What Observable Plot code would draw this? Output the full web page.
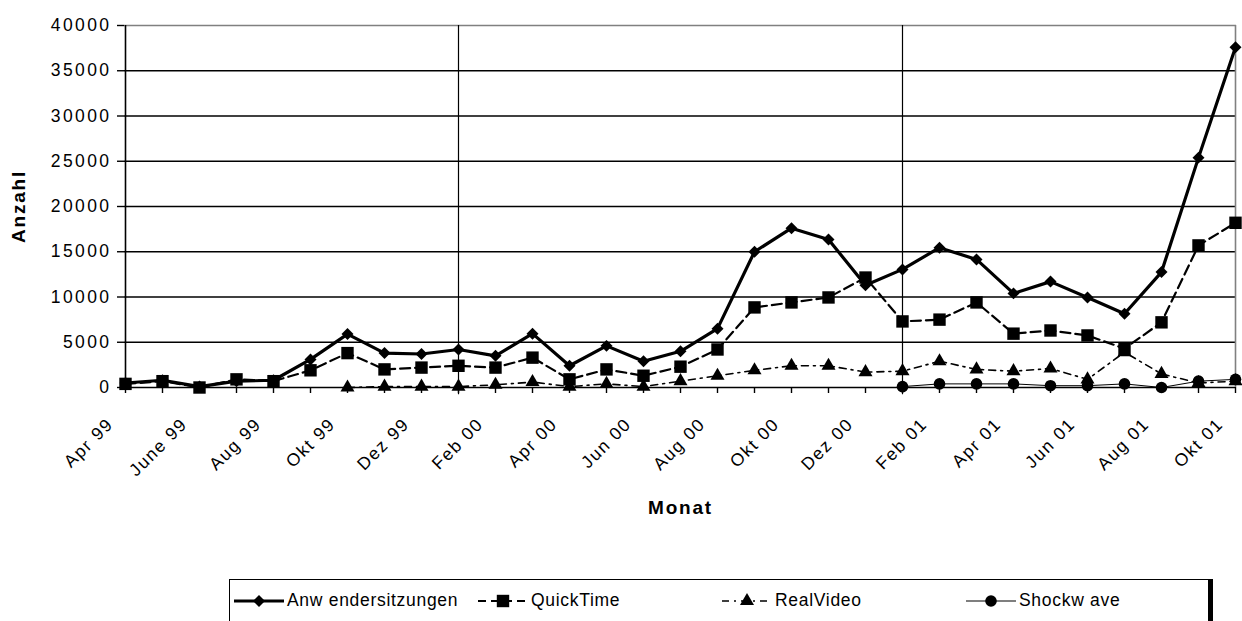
<!DOCTYPE html>
<html><head><meta charset="utf-8">
<script src="https://cdn.jsdelivr.net/npm/d3@7"></script>
<script src="https://cdn.jsdelivr.net/npm/@observablehq/plot@0.6"></script>
<style>
html,body{margin:0;padding:0;background:#fff;}
#wrap{position:relative;width:1242px;height:621px;overflow:hidden;font-family:"Liberation Sans",Arial,sans-serif;}
#chart svg{display:block;}
g[aria-label="y-axis tick label"] text{letter-spacing:2.4px;}
.xlab text{letter-spacing:1.6px;}
.title text{letter-spacing:1.8px;}
#legend{position:absolute;left:229px;top:579px;width:980px;height:60px;border:1px solid #000;box-shadow:4px 0 0 #000;background:#fff;box-sizing:border-box;font-size:17.5px;letter-spacing:0.7px;}
.item{position:absolute;top:10px;display:flex;align-items:center;white-space:nowrap;}
.item svg{display:block;margin-right:2px;}
</style></head><body>
<div id="wrap"><div id="chart"></div><div id="legend"></div></div>
<script>
const months = ["Apr 99","Mai 99","June 99","Jul 99","Aug 99","Sep 99","Okt 99","Nov 99","Dez 99","Jan 00","Feb 00","Mrz 00","Apr 00","Mai 00","Jun 00","Jul 00","Aug 00","Sep 00","Okt 00","Nov 00","Dez 00","Jan 01","Feb 01","Mrz 01","Apr 01","Mai 01","Jun 01","Jul 01","Aug 01","Sep 01","Okt 01"];
const anwendersitzungen = [500,800,100,700,800,3100,5900,3800,3700,4200,3500,5950,2400,4600,2900,4000,6500,15000,17600,16350,11300,13050,15450,14150,10400,11700,9950,8150,12750,25400,37600];
const quickTime = [400,700,0,900,700,1900,3800,2000,2200,2400,2200,3300,900,2000,1300,2300,4200,8850,9400,9950,12150,7300,7500,9400,5950,6300,5750,4300,7200,15700,18200];
const realVideo = [null,null,null,null,null,null,0,100,100,100,300,600,100,400,100,700,1300,1900,2400,2400,1700,1800,2900,2000,1800,2100,900,3900,1500,500,700];
const shockwave = [null,null,null,null,null,null,null,null,null,null,null,null,null,null,null,null,null,null,null,null,null,100,400,400,400,200,200,400,0,700,900];
const yTicks = [0,5000,10000,15000,20000,25000,30000,35000,40000];
const yearLines = ["Jan 00","Jan 01"];
const seriesNames = ["Anw endersitzungen","QuickTime","RealVideo","Shockw ave"];

const rows = (vals) => months.map((m,i)=>({month:m, value:vals[i]}));
const labelMonths = months.filter((d,i)=>i%2===0);

const H = 575;
const chart = Plot.plot({
  width:1242, height:H,
  marginLeft:124, marginRight:6, marginTop:25, marginBottom:H-387,
  style:{fontFamily:"'Liberation Sans', Arial, sans-serif", fontSize:"17.5px", background:"#fff", color:"#000", overflow:"visible"},
  x:{type:"point", domain:months, padding:0},
  y:{domain:[0,40000]},
  marks:[
    Plot.ruleY(yTicks.filter(d=>d<40000), {stroke:"#000", strokeWidth:1.6}),
    Plot.ruleY([40000], {stroke:"#808080", strokeWidth:1.6}),
    Plot.ruleX([months[months.length-1]], {stroke:"#808080", strokeWidth:1.6}),
    Plot.ruleX(yearLines, {y1:-800, y2:40000, stroke:"#000", strokeWidth:1.2}),
    Plot.ruleX([months[0]], {stroke:"#000", strokeWidth:1.6}),
    Plot.axisY({ticks:yTicks, tickSize:7, tickPadding:6, tickFormat:d=>String(d), label:null, strokeWidth:1.4, fontSize:17.5}),
    Plot.axisX({ticks:months, tickSize:6, tickFormat:()=>"", label:null, strokeWidth:1.4}),
    Plot.text(labelMonths, {x:d=>d, y:()=>0, text:d=>d, rotate:-45, textAnchor:"end", lineAnchor:"top", dx:-20, dy:29, fontSize:17.5, className:"xlab"}),
    Plot.line(rows(anwendersitzungen), {x:"month", y:"value", stroke:"#000", strokeWidth:3.2}),
    Plot.dot(rows(anwendersitzungen), {x:"month", y:"value", symbol:"diamond2", r:5.4, fill:"#000", stroke:"none"}),
    Plot.line(rows(quickTime), {x:"month", y:"value", stroke:"#000", strokeWidth:2.2, strokeDasharray:"10,5"}),
    Plot.dot(rows(quickTime), {x:"month", y:"value", symbol:"square", r:7, fill:"#000"}),
    Plot.line(rows(realVideo), {x:"month", y:"value", stroke:"#000", strokeWidth:1.6, strokeDasharray:"7,5,2,5"}),
    Plot.dot(rows(realVideo).filter(d=>d.value!=null), {x:"month", y:"value", symbol:"triangle", r:5.2, fill:"#000"}),
    Plot.line(rows(shockwave), {x:"month", y:"value", stroke:"#000", strokeWidth:1}),
    Plot.dot(rows(shockwave).filter(d=>d.value!=null), {x:"month", y:"value", r:5.8, fill:"#000"}),
    Plot.text(["Anzahl"], {frameAnchor:"left", dx:-106, rotate:-90, textAnchor:"middle", lineAnchor:"middle", fontWeight:"bold", fontSize:19, className:"title"}),
    Plot.text(["Monat"], {frameAnchor:"bottom", dy:120, textAnchor:"middle", lineAnchor:"middle", fontWeight:"bold", fontSize:19, className:"title"})
  ]
});
document.getElementById("chart").appendChild(chart);

// legend
const styles = [
  {w:3.2, dash:null, sym:d3.symbolDiamond2, r:5.4},
  {w:2.2, dash:"8,5", sym:d3.symbolSquare, r:7},
  {w:1.6, dash:"7,5,2,5", sym:d3.symbolTriangle, r:5.2},
  {w:1.2, dash:null, sym:d3.symbolCircle, r:5.8}
];
const leg = document.getElementById("legend");
const colW = 244;
seriesNames.forEach((name,i)=>{
  const s = styles[i];
  const item = document.createElement("div"); item.className="item";
  item.style.left = (3 + i*colW) + "px";
  const sw = 52;
  const svg = d3.create("svg").attr("width",sw).attr("height",20);
  svg.append("line").attr("x1",1).attr("x2",sw-1).attr("y1",10).attr("y2",10).attr("stroke","#000").attr("stroke-width",s.w).attr("stroke-dasharray",s.dash);
  svg.append("path").attr("transform",`translate(${sw/2},10)`).attr("d", d3.symbol(s.sym, s.r*s.r*Math.PI)()).attr("fill","#000");
  item.appendChild(svg.node());
  const t = document.createElement("span"); t.textContent = name;
  item.appendChild(t);
  leg.appendChild(item);
});
</script>
</body></html>
